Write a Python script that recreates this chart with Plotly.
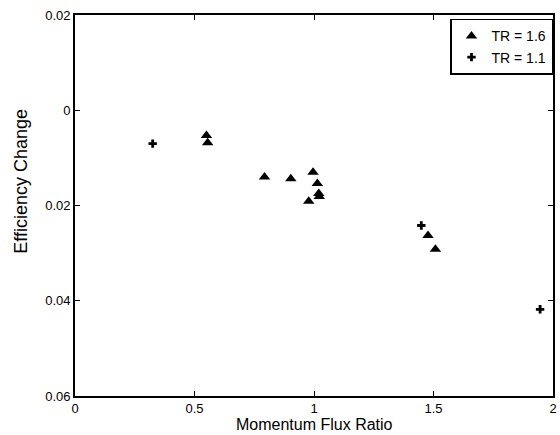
import plotly.graph_objects as go

# TR = 1.6 series (triangles)
tr16_x = [0.55, 0.555, 0.793, 0.903, 0.996, 1.014, 1.02, 1.022, 0.978, 1.477, 1.508]
tr16_y = [-0.0053, -0.0068, -0.0140, -0.0144, -0.0130, -0.0154, -0.0175, -0.0181, -0.0191, -0.0263, -0.0292]

# TR = 1.1 series (plus markers)
tr11_x = [0.325, 1.449, 1.946]
tr11_y = [-0.0070, -0.0242, -0.0418]

x_ticks = [0, 0.5, 1, 1.5, 2]
x_ticktext = ["0", "0.5", "1", "1.5", "2"]
y_ticks = [0.02, 0, -0.02, -0.04, -0.06]
y_ticktext = ["0.02", "0", "0.02", "0.04", "0.06"]

fig = go.Figure()
fig.add_trace(go.Scatter(x=tr16_x, y=tr16_y, mode="markers", name="TR = 1.6",
                         marker=dict(symbol="triangle-up", size=10, color="black")))
fig.add_trace(go.Scatter(x=tr11_x, y=tr11_y, mode="markers", name="TR = 1.1",
                         marker=dict(symbol="cross", size=7, color="black")))

axis_common = dict(showgrid=False, zeroline=False, showline=True, linecolor="black",
                   linewidth=1.6, mirror="ticks", ticks="inside", ticklen=5,
                   tickcolor="black", tickfont=dict(size=13, color="black"))

fig.update_layout(
    width=560, height=435,
    margin=dict(l=75, r=3, t=15, b=39),
    paper_bgcolor="white", plot_bgcolor="white",
    font=dict(family="Liberation Sans, Arial, sans-serif", color="black"),
    showlegend=True,
    legend=dict(x=1.0, y=0.99, xanchor="right", yanchor="top",
                bordercolor="black", borderwidth=1.5, bgcolor="white",
                font=dict(size=14), itemwidth=30, tracegroupgap=0),
    xaxis=dict(range=[0, 2], tickvals=x_ticks, ticktext=x_ticktext, **axis_common),
    yaxis=dict(range=[-0.06, 0.02], tickvals=y_ticks, ticktext=y_ticktext, **axis_common),
    annotations=[
        dict(text="Momentum Flux Ratio", xref="paper", yref="paper", x=0.5, y=-0.0735,
             xanchor="center", yanchor="middle", showarrow=False, font=dict(size=16)),
        dict(text="Efficiency Change", xref="paper", yref="paper", x=-0.113, y=0.565,
             xanchor="center", yanchor="middle", showarrow=False, textangle=-90,
             font=dict(size=18)),
    ],
)

fig.write_html("out.html")
